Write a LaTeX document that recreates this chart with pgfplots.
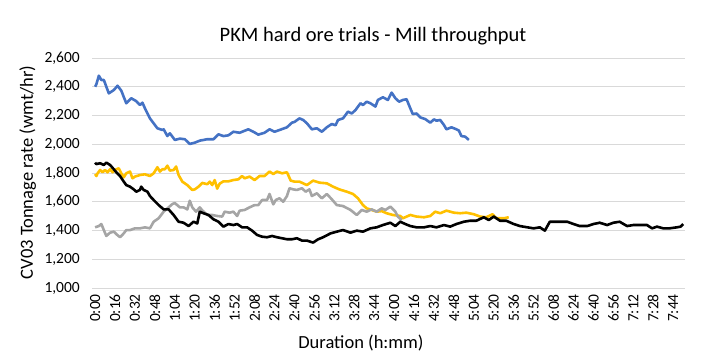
\documentclass[border=0pt]{standalone}
\usepackage{pgfplots}
\pgfplotsset{compat=1.18}
\usepackage{fontspec}
\setmainfont{Carlito}
\definecolor{cblue}{HTML}{4472C4}
\definecolor{cyellow}{HTML}{FFC000}
\definecolor{cgray}{HTML}{A5A5A5}
\definecolor{cgrid}{HTML}{D9D9D9}
\definecolor{ctext}{HTML}{000000}
\begin{document}
\begin{tikzpicture}
\path[use as bounding box] (0bp,0bp) rectangle (711bp,356bp);
\begin{axis}[
  at={(92bp,68bp)}, anchor=south west,
  scale only axis, width=593bp, height=230bp,
  xmin=-2.5, xmax=473.5, ymin=1000, ymax=2600,
  axis x line*=bottom, axis y line*=left,
  x axis line style={draw=cgrid, line width=0.75bp},
  y axis line style={draw=none},
  major tick length=0pt,
  ymajorgrids, grid style={draw=cgrid, line width=0.75bp},
  ytick={1000,1200,...,2600},
  xtick={0,16,...,464},
  xticklabels={0:00,0:16,0:32,0:48,1:04,1:20,1:36,1:52,2:08,2:24,2:40,2:56,3:12,3:28,3:44,4:00,4:16,4:32,4:48,5:04,5:20,5:36,5:52,6:08,6:24,6:40,6:56,7:12,7:28,7:44},
  /pgf/number format/assume math mode=true,
  yticklabel={\pgfmathprintnumber[fixed,1000 sep={,}]{\tick}},
  yticklabel style={font=\fontsize{15.5bp}{18bp}\selectfont, text=ctext, anchor=east, inner sep=0pt, xshift=-12bp},
  xticklabel style={font=\fontsize{15.5bp}{18bp}\selectfont, text=ctext, rotate=90, anchor=east, inner sep=0pt, xshift=-6bp},
  title={PKM hard ore trials - Mill throughput},
  title style={font=\fontsize{20.5bp}{24bp}\selectfont, text=ctext, at={(axis description cs:0.4739,1.087)}, anchor=base, inner sep=0pt, yshift=-9bp},
  xlabel={Duration (h:mm)},
  xlabel style={font=\fontsize{18.5bp}{22bp}\selectfont, text=ctext, at={(axis description cs:0.4536,-0.2609)}, anchor=base, inner sep=0pt},
  ylabel={CV03 Tonnage rate (wmt/hr)},
  ylabel style={font=\fontsize{18.5bp}{22bp}\selectfont, text=ctext, at={(axis description cs:-0.0995,0.502)}, anchor=base, inner sep=0pt},
  every axis plot/.append style={line width=2.6bp, line join=round, mark=none},
]
% blue
\addplot[cblue] coordinates {
(0,2400)(1,2417)(3,2477)(5,2447)(7,2447)(11,2354)(15,2377)(18,2407)(21,2373)(25,2285)(29,2320)(33,2300)(36,2273)(38,2289)(40,2250)(44,2180)(50,2111)(54,2099)(55,2104)(58,2057)(60,2076)(64,2030)(68,2039)(72,2035)(76,2002)(80,2011)(84,2025)(90,2035)(95,2035)(99,2069)(103,2057)(107,2062)(111,2087)(116,2080)(123,2104)(127,2087)(131,2067)(136,2080)(140,2104)(144,2087)(148,2099)(154,2118)(158,2150)(160,2155)(164,2180)(167,2169)(170,2146)(174,2104)(178,2111)(182,2087)(186,2118)(190,2141)(193,2132)(195,2169)(199,2180)(203,2227)(206,2214)(209,2238)(213,2285)(215,2273)(218,2296)(221,2285)(225,2262)(227,2308)(231,2327)(235,2308)(238,2359)(241,2320)(244,2296)(247,2308)(250,2313)(253,2250)(255,2210)(258,2214)(261,2187)(265,2175)(269,2150)(272,2173)(274,2164)(277,2169)(280,2134)(282,2104)(286,2118)(290,2104)(292,2095)(294,2057)(297,2053)(300,2030)
};
% yellow
\addplot[cyellow] coordinates {
(0,1793)(1,1779)(2,1798)(4,1821)(6,1805)(8,1821)(10,1805)(12,1826)(14,1805)(16,1821)(19,1833)(21,1798)(23,1770)(25,1798)(28,1810)(30,1763)(32,1775)(36,1786)(40,1791)(44,1779)(47,1798)(50,1840)(52,1810)(54,1826)(56,1826)(58,1851)(60,1817)(63,1821)(65,1845)(67,1786)(70,1740)(74,1716)(78,1682)(80,1686)(83,1705)(86,1731)(90,1722)(92,1740)(94,1716)(96,1751)(98,1691)(100,1726)(103,1742)(107,1742)(111,1751)(115,1756)(118,1779)(120,1763)(124,1775)(128,1751)(132,1779)(136,1779)(140,1810)(143,1793)(146,1810)(150,1798)(154,1805)(157,1747)(160,1740)(164,1740)(170,1716)(175,1747)(180,1733)(186,1728)(191,1705)(196,1686)(202,1670)(207,1654)(211,1624)(215,1577)(218,1554)(222,1543)(226,1531)(230,1535)(234,1520)(239,1508)(245,1501)(247,1485)(253,1508)(258,1497)(264,1492)(269,1501)(273,1531)(277,1520)(282,1538)(288,1524)(293,1520)(298,1524)(304,1513)(309,1497)(314,1492)(319,1513)(322,1485)(328,1485)(332,1492)
};
% gray
\addplot[cgray] coordinates {
(0,1422)(3,1431)(5,1445)(7,1403)(9,1362)(12,1385)(15,1392)(17,1375)(20,1353)(23,1380)(25,1403)(28,1403)(32,1415)(36,1415)(40,1422)(44,1415)(47,1461)(51,1485)(55,1531)(59,1561)(62,1584)(64,1591)(68,1561)(71,1561)(74,1547)(76,1607)(78,1561)(81,1531)(84,1561)(86,1540)(90,1508)(94,1508)(98,1501)(102,1497)(104,1531)(108,1524)(111,1531)(114,1501)(116,1538)(120,1543)(124,1561)(128,1577)(131,1577)(134,1612)(138,1612)(140,1654)(143,1582)(145,1612)(148,1624)(151,1600)(154,1640)(156,1694)(159,1686)(162,1682)(166,1694)(169,1670)(172,1686)(174,1640)(178,1659)(182,1624)(186,1654)(190,1617)(194,1577)(199,1570)(205,1543)(210,1508)(214,1543)(218,1531)(222,1547)(226,1531)(230,1554)(233,1543)(237,1566)(241,1531)(243,1497)(246,1473)
};
% black
\addplot[black] coordinates {
(0,1872)(1,1862)(4,1868)(7,1856)(9,1872)(12,1856)(15,1826)(17,1805)(20,1779)(23,1740)(25,1716)(28,1705)(31,1686)(33,1670)(36,1682)(37,1705)(39,1682)(42,1670)(44,1640)(47,1612)(51,1577)(55,1547)(59,1547)(63,1508)(67,1461)(71,1454)(75,1431)(79,1461)(82,1449)(84,1531)(87,1520)(91,1508)(95,1478)(99,1461)(103,1427)(107,1445)(111,1438)(114,1445)(118,1422)(122,1422)(126,1399)(130,1369)(134,1357)(138,1353)(142,1362)(146,1353)(150,1346)(154,1339)(158,1339)(162,1346)(166,1330)(170,1330)(175,1316)(179,1339)(183,1353)(189,1380)(194,1392)(199,1403)(205,1385)(210,1399)(215,1392)(221,1415)(226,1422)(231,1438)(237,1454)(241,1431)(245,1461)(249,1445)(253,1431)(258,1422)(264,1422)(269,1431)(274,1422)(280,1438)(285,1427)(290,1445)(296,1461)(301,1468)(306,1468)(312,1492)(316,1473)(320,1497)(325,1468)(330,1468)(336,1445)(341,1431)(347,1422)(352,1415)(357,1422)(361,1399)(365,1461)(368,1461)(373,1461)(379,1461)(384,1445)(389,1431)(395,1431)(400,1445)(405,1454)(411,1438)(416,1454)(421,1461)(427,1431)(432,1438)(437,1438)(443,1438)(447,1415)(451,1427)(456,1415)(461,1415)(467,1422)(470,1427)(472,1445)
};
\end{axis}
\end{tikzpicture}
\end{document}
